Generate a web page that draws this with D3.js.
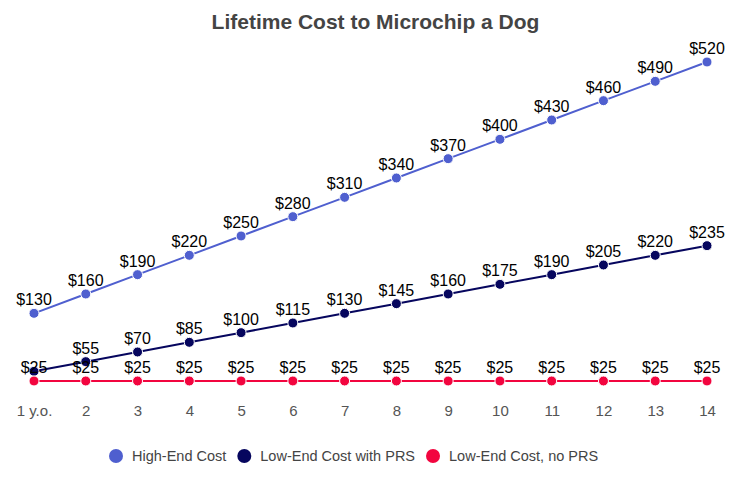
<!DOCTYPE html>
<html>
<head>
<meta charset="utf-8">
<script src="https://cdn.jsdelivr.net/npm/d3@7"></script>
<style>
  body { margin: 0; background: #fff; }
  svg { font-family: "Liberation Sans", Arial, sans-serif; }
</style>
</head>
<body>
<svg id="chart" width="751" height="483"></svg>
<script>
// chart data
const years = ['1 y.o.', '2', '3', '4', '5', '6', '7', '8', '9', '10', '11', '12', '13', '14']
const highEnd = [130, 160, 190, 220, 250, 280, 310, 340, 370, 400, 430, 460, 490, 520]
const lowEndPrs = [40, 55, 70, 85, 100, 115, 130, 145, 160, 175, 190, 205, 220, 235]
const lowEndNoPrs = [25, 25, 25, 25, 25, 25, 25, 25, 25, 25, 25, 25, 25, 25]
const seriesNames = ['High-End Cost', 'Low-End Cost with PRS', 'Low-End Cost, no PRS']
const seriesColors = ['#4f5fcf', '#06065e', '#f2053f']

const series = [highEnd, lowEndPrs, lowEndNoPrs].map((vals, i) => ({
  name: seriesNames[i],
  color: seriesColors[i],
  values: vals.map((v, j) => ({ year: years[j], value: v }))
}))

const svg = d3.select('#chart')

const x = d3.scalePoint().domain(years).range([34, 707])
const y = d3.scaleLinear().domain([0, 520]).range([397.1, 62])

// title
svg.append('text')
  .attr('x', 375.5).attr('y', 29)
  .attr('text-anchor', 'middle')
  .style('font-size', '21px').style('font-weight', 'bold')
  .style('fill', '#444')
  .text('Lifetime Cost to Microchip a Dog')

// x axis labels (no line, no ticks)
const xAxis = svg.append('g')
  .attr('transform', 'translate(0,397)')
  .call(d3.axisBottom(x).tickSize(0).tickPadding(8))
xAxis.select('.domain').remove()
xAxis.selectAll('text')
  .style('font-size', '15px')
  .style('fill', '#555')
  .style('font-family', '"Liberation Sans", Arial, sans-serif')

const line = d3.line()
  .x(d => x(d.year))
  .y(d => y(d.value))

const g = svg.append('g')
series.forEach(s => {
  g.append('path')
    .datum(s.values)
    .attr('fill', 'none')
    .attr('stroke', s.color)
    .attr('stroke-width', 2)
    .attr('d', line)
  g.selectAll(null)
    .data(s.values)
    .enter().append('circle')
    .attr('cx', d => x(d.year))
    .attr('cy', d => y(d.value))
    .attr('r', 5)
    .attr('fill', s.color)
    .attr('stroke', '#fff')
    .attr('stroke-width', 1)
})

// data labels, hide ones that collide with a later series label
const labels = []
series.forEach((s, si) => {
  s.values.forEach(d => {
    labels.push({ si, year: d.year, value: d.value, ly: y(d.value) - 8 })
  })
})
const shown = labels.filter(l => !labels.some(o => o.si > l.si && o.year === l.year && Math.abs(o.ly - l.ly) < 15))

svg.append('g').selectAll('text')
  .data(shown)
  .enter().append('text')
  .attr('x', d => x(d.year))
  .attr('y', d => d.ly)
  .attr('text-anchor', 'middle')
  .style('font-size', '16px')
  .style('fill', '#000')
  .text(d => '$' + d.value)

// legend
const legend = svg.append('g').attr('transform', 'translate(0,456)')
let lx = 116
series.forEach(s => {
  const item = legend.append('g').attr('transform', `translate(${lx},0)`)
  item.append('circle').attr('r', 7).attr('fill', s.color)
  const t = item.append('text')
    .attr('x', 16).attr('y', 5)
    .style('font-size', '14.5px')
    .style('fill', '#444')
    .text(s.name)
  lx += 16 + t.node().getComputedTextLength() + 18
})
</script>
</body>
</html>
